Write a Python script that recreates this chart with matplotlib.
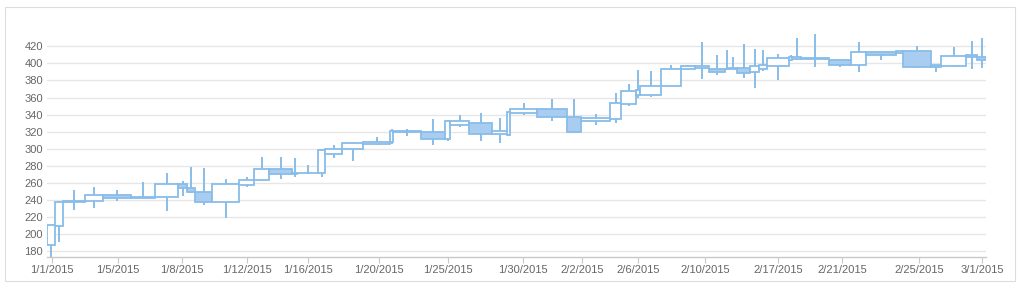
import matplotlib
matplotlib.use("Agg")
import matplotlib.pyplot as plt
from matplotlib.patches import Rectangle

plt.rcParams['font.family'] = ['Liberation Sans', 'DejaVu Sans']

# candle slot boundaries (irregular time axis, arbitrary units); candle i spans bounds[i]..bounds[i+1]
bounds = [47, 55, 63, 85, 103, 131, 155, 178, 187, 195, 212, 239, 254, 269, 292, 297,
          318, 325, 342, 363, 390, 393, 421, 445, 450, 469, 492, 507, 510, 537, 567,
          581, 610, 621, 636, 640, 661, 681, 695, 709, 725, 729, 737, 750, 759, 767,
          789, 792, 801, 829, 851, 866, 896, 903, 931, 941, 966, 977, 986]

opens = [187, 209, 238, 239, 246, 242, 243, 259, 254, 249, 237, 258, 263, 276, 270, 271,
         272, 294, 300, 305, 308, 319, 320, 311, 328, 330, 317, 316, 342, 346, 337,
         333, 335, 352, 363, 363, 374, 394, 395, 394, 393, 394, 395, 390, 394, 397,
         404, 405, 406, 404, 398, 413, 412, 414, 398, 397, 410, 408]
highs = [211, 239, 252, 255, 252, 261, 272, 262, 278, 277, 265, 267, 290, 290, 289, 281,
         299, 304, 308, 314, 323, 323, 335, 334, 340, 342, 336, 344, 353, 358, 358,
         341, 365, 376, 392, 391, 398, 398, 425, 410, 416, 408, 423, 417, 416, 411,
         410, 430, 435, 405, 425, 413, 415, 420, 398, 419, 426, 430]
lows = [170, 191, 228, 231, 239, 242, 227, 244, 248, 234, 219, 255, 262, 264, 267, 270,
        267, 289, 286, 304, 306, 315, 304, 309, 326, 309, 307, 315, 340, 332, 318,
        328, 330, 350, 360, 361, 373, 392, 382, 386, 392, 393, 383, 371, 391, 380,
        403, 404, 396, 396, 390, 404, 411, 395, 390, 396, 394, 395]
closes = [210, 238, 239, 246, 242, 243, 259, 254, 249, 237, 259, 263, 276, 270, 272, 272,
          298, 300, 307, 308, 321, 321, 311, 332, 332, 317, 321, 343, 346, 337, 320,
          336, 353, 368, 369, 374, 394, 397, 397, 390, 394, 395, 389, 397, 398, 406,
          407, 407, 405, 398, 413, 410, 415, 396, 396, 409, 408, 404]

tick_pos = [52, 118, 182, 247, 308, 379, 448, 523, 582, 638, 705, 778, 842, 919, 982]
tick_labels = ['1/1/2015', '1/5/2015', '1/8/2015', '1/12/2015', '1/16/2015', '1/20/2015',
               '1/25/2015', '1/30/2015', '2/2/2015', '2/6/2015', '2/10/2015', '2/17/2015',
               '2/21/2015', '2/25/2015', '3/1/2015']

EDGE = '#88bde9'
FILL = '#a9cdf0'

fig = plt.figure(figsize=(10.24, 2.87), dpi=100)
fig.patches.append(Rectangle((5 / 1024, 1 - 281 / 287), 1010 / 1024, 274 / 287,
                             transform=fig.transFigure, fill=False,
                             edgecolor='#dddddd', linewidth=0.8))
ax = fig.add_axes([47 / 1024, 1 - 257 / 287, 939 / 1024, 226 / 287])

for i in range(len(opens)):
    left, right = bounds[i], bounds[i + 1]
    mid = (left + right) / 2
    o, h, l, c = opens[i], highs[i], lows[i], closes[i]
    ax.vlines(mid, l, h, color=EDGE, linewidth=1.4, zorder=2)
    lo, hi = min(o, c), max(o, c)
    if hi - lo < 1:
        hi = lo + 1
    ax.add_patch(Rectangle((left, lo), right - left, hi - lo,
                           facecolor=FILL if c < o else 'white',
                           edgecolor=EDGE, linewidth=1.3, zorder=3))

ax.set_xlim(bounds[0], bounds[-1])
ax.set_ylim(173, 438)
ax.set_yticks(range(180, 421, 20))
ax.set_xticks(tick_pos)
ax.set_xticklabels(tick_labels)
ax.grid(axis='y', color='#e6e6e6', linewidth=1, zorder=0)
ax.set_axisbelow(True)
for s in ['top', 'right', 'left']:
    ax.spines[s].set_visible(False)
ax.spines['bottom'].set_color('#c8c8c8')
ax.spines['bottom'].set_linewidth(1)
ax.tick_params(axis='y', length=0, pad=3, labelsize=8, labelcolor='#666666')
ax.tick_params(axis='x', length=4, color='#c8c8c8', pad=2, labelsize=8, labelcolor='#666666')

fig.savefig('out.png', dpi=100)
